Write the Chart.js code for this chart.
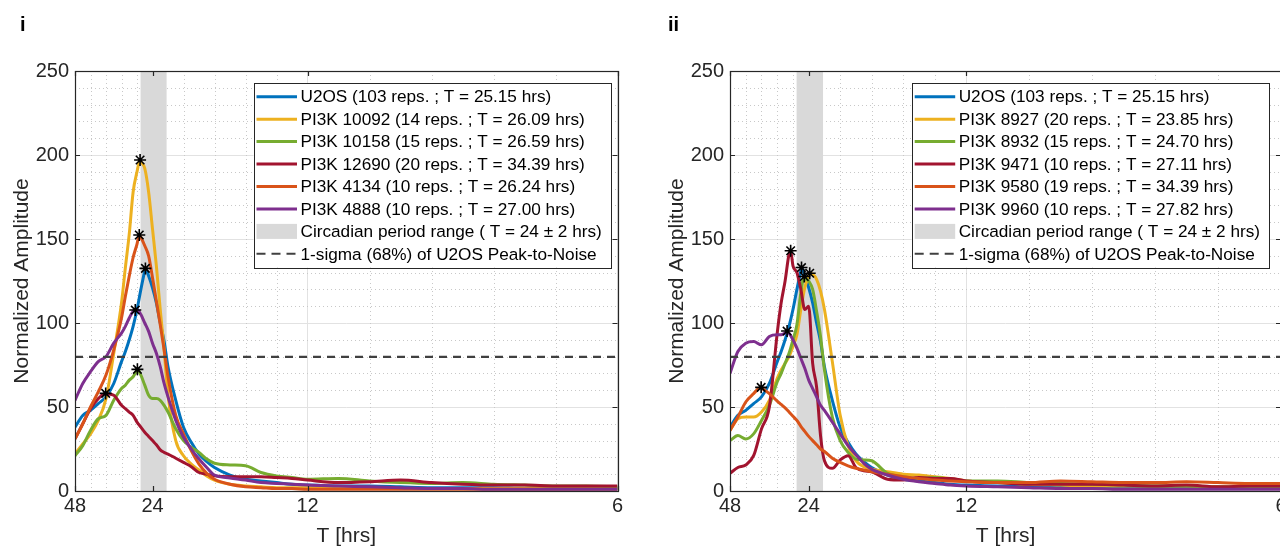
<!DOCTYPE html>
<html><head><meta charset="utf-8">
<script src="https://cdn.jsdelivr.net/npm/chart.js@4.4.1/dist/chart.umd.min.js"></script>
<style>
html,body{margin:0;padding:0;background:#fff;overflow:hidden}
#wrap{position:relative;width:1280px;height:550px;overflow:hidden;background:#fff}
#p1{position:absolute;left:0;top:0}
#p2{position:absolute;left:640px;top:0}
</style></head><body>
<div id="wrap"><canvas id="p1" width="640" height="550"></canvas><canvas id="p2" width="700" height="550"></canvas></div>
<script>
// ---------- DATA ----------
// x = frequency in cycles per day (24 / period in hours)
const freqGrid = [0.5,0.55,0.6,0.65,0.7,0.75,0.8,0.825,0.85,0.875,0.9,0.925,0.95,0.975,1.0,1.025,1.05,1.075,1.1,1.15,1.2,1.25,1.3,1.35,1.4,1.5,1.6,1.7,1.8,1.9,2.0,2.2,2.4,2.6,2.8,3.0,3.2,3.4,3.6,3.8,4.0];
const xTickPeriods = [48, 24, 12, 6];
const circadianRange = [22, 26];
const sigmaLevel = 79.8;
const yMin = 0, yMax = 250, yStep = 50;

// panel i
const u2os      = [38,45,48,52,56,64,77, 83,90,98,108,120,131,128,121, 112,100,89,74, 54,38,29,22,17.5,14, 9.5,7,6,5,4,3.5, 3,3,2.5,2,2,2,1.5,1.5,1.5,1.5];
const pi3k10092 = [22,28,34,42,55,82,112, 133,153,178,190,196,192,178,156, 134,108,84,57, 30,21,16,12.5,9,6.5, 4,3,2.5,2,2,2, 1.5,1.5,1.5,1.5,1.5,1.5,1.5,1.5,1.5,1.5];
const pi3k10158 = [21,27,36,43,45,54,61, 63,66,68,72,69,63,57,55, 55,54,51,47, 37,30,26,23,19,16.5, 15.5,15,11,9,8,7, 7.5,6,5,4.5,5,4,3.5,3,3,2.5];
const pi3k12690 = [31,40,49,55,58,57,51, 49,47,45,41,38,35,32.5,30, 27.5,24.5,23,22, 19.5,17,14.5,11,10,9, 8.5,8.5,8.5,8,7.5,6.5, 5,5.5,6.5,5,4,3.5,3.5,3,3,3];
const pi3k4134  = [31,40,50,59,69,84,103, 116,128,139,147,151,146,140,127, 113,99,84,68, 45,34,24,16,10.5,7, 4,2.5,2,1.5,1.5,1, 1,1,1,1,1,1,1,1,1,1];
const pi3k4888  = [54,64,71,77,80,88,94, 98,103,107,108,105,100,95,88, 82,74,64,56, 42,32,25,19,14,9.5, 7.8,6.5,5,4.5,4,3.5, 3,2.5,2,1.5,1.5,1,1,1,1,1];
const panel1PeakT   = [25.15, 26.09, 26.59, 34.39, 26.24, 27.00];
const panel1PeakAmp = [132.5, 197, 72.4, 58.1, 152.4, 107.7];
const panel1Labels = [
  'U2OS (103 reps. ; T = 25.15 hrs)',
  'PI3K 10092 (14 reps. ; T = 26.09 hrs)',
  'PI3K 10158 (15 reps. ; T = 26.59 hrs)',
  'PI3K 12690 (20 reps. ; T = 34.39 hrs)',
  'PI3K 4134 (10 reps. ; T = 26.24 hrs)',
  'PI3K 4888 (10 reps. ; T = 27.00 hrs)',
  'Circadian period range ( T = 24 \u00b1 2 hrs)',
  '1-sigma (68%) of U2OS Peak-to-Noise'
];

// panel ii
const pi3k8927 = [36,43,44,44,47,54,67, 72,76,80,86,93,108,121,128, 129,126,119,108, 77,45,27,18,14.5,13, 11.5,10,9.5,8.5,7.5,6, 5,4,3.5,3,3,3,3,2.5,2,2];
const pi3k8932 = [30,33,31,34,42,51,65, 70,76,82,90,99,118,127,125, 120,107,92,72, 44,30,23,19,18.5,18, 10.5,8.5,7.5,8,7,6, 6,5,4.5,4,3.5,3,3,2.5,2.5,2];
const pi3k9471 = [10.5,14,15.5,21,37,50,94, 112,125,141,134,130,120,108,110, 76,62,33,18, 13.5,18.5,21,14,12,11.5, 7,6.5,8,7.5,7.5,6, 5,4,4,4,3.5,3,3.5,2.5,3,3];
const pi3k9580 = [36,44,53,58,61.5,58,53.5, 51.5,49.5,47,44.5,42,38.5,35.5,32.5, 30,27.5,25,23.5, 19.5,17,15,13.5,12.5,11.5, 10,8.5,7.5,6.5,6,5.5, 5,5,6,5.5,5,5,5.5,5,4.5,4.5];
const pi3k9960 = [70,83,88,89,87,92,93, 93,94,94,90,85,79,73,66, 61,56,51,48, 41,34,27,21.5,16.5,13, 9.5,7,5.5,4.5,3.5,3, 2.5,2,1.5,1.5,1,1,1,1,1,1];
const panel2PeakT   = [25.15, 23.85, 24.70, 27.11, 34.39, 27.82];
const panel2PeakAmp = [133, 129.6, 127.7, 143, 61.7, 95.2];
const panel2Labels = [
  'U2OS (103 reps. ; T = 25.15 hrs)',
  'PI3K 8927 (20 reps. ; T = 23.85 hrs)',
  'PI3K 8932 (15 reps. ; T = 24.70 hrs)',
  'PI3K 9471 (10 reps. ; T = 27.11 hrs)',
  'PI3K 9580 (19 reps. ; T = 34.39 hrs)',
  'PI3K 9960 (10 reps. ; T = 27.82 hrs)',
  'Circadian period range ( T = 24 \u00b1 2 hrs)',
  '1-sigma (68%) of U2OS Peak-to-Noise'
];

// ---------- STYLE ----------
const seriesColors = ['#0072BD', '#EDB120', '#77AC30', '#A2142F', '#D95319', '#7E2F8E'];
const FONT = '"Liberation Sans", Arial, Helvetica, sans-serif';
const AXIS_COLOR = '#262626';
const BAND_COLOR = '#d9d9d9';
const SIGMA_COLOR = '#404040';
const MINOR_DIV = 5;

const matlabPlugin = {
  id: 'matlab',
  beforeDatasetsDraw(chart) {
    const {ctx, chartArea: a, scales: {x, y}} = chart;
    ctx.save();
    ctx.beginPath(); ctx.rect(a.left, a.top, a.right - a.left, a.bottom - a.top); ctx.clip();
    ctx.strokeStyle = '#c8c8c8'; ctx.lineWidth = 1; ctx.setLineDash([1, 3]);
    const majorX = xTickPeriods.map(T => 24 / T);
    for (let m = 0; m < majorX.length - 1; m++) {
      for (let j = 1; j < MINOR_DIV; j++) {
        const v = majorX[m] + j * (majorX[m + 1] - majorX[m]) / MINOR_DIV;
        const px = Math.round(x.getPixelForValue(v)) + 0.5;
        ctx.beginPath(); ctx.moveTo(px, a.top); ctx.lineTo(px, a.bottom); ctx.stroke();
      }
    }
    for (let v = yMin; v < yMax; v += yStep) {
      for (let j = 1; j < MINOR_DIV; j++) {
        const py = Math.round(y.getPixelForValue(v + j * yStep / MINOR_DIV)) + 0.5;
        ctx.beginPath(); ctx.moveTo(a.left, py); ctx.lineTo(a.right, py); ctx.stroke();
      }
    }
    ctx.setLineDash([]);
    const x0 = x.getPixelForValue(24 / circadianRange[1]);
    const x1 = x.getPixelForValue(24 / circadianRange[0]);
    ctx.fillStyle = BAND_COLOR;
    ctx.fillRect(x0, a.top, x1 - x0, a.bottom - a.top);
    ctx.restore();
  },
  afterDraw(chart, args, opts) {
    const {ctx, chartArea: a, scales: {x, y}} = chart;
    ctx.save();
    ctx.strokeStyle = AXIS_COLOR; ctx.lineWidth = 1.2;
    ctx.strokeRect(Math.round(a.left) + 0.5, Math.round(a.top) + 0.5, Math.round(a.right - a.left), Math.round(a.bottom - a.top));
    const tl = 5;
    ctx.beginPath();
    xTickPeriods.forEach(T => {
      const px = Math.round(x.getPixelForValue(24 / T)) + 0.5;
      ctx.moveTo(px, a.bottom); ctx.lineTo(px, a.bottom - tl);
      ctx.moveTo(px, a.top); ctx.lineTo(px, a.top + tl);
    });
    for (let v = yMin; v <= yMax; v += yStep) {
      const py = Math.round(y.getPixelForValue(v)) + 0.5;
      ctx.moveTo(a.left, py); ctx.lineTo(a.left + tl, py);
      ctx.moveTo(a.right, py); ctx.lineTo(a.right - tl, py);
    }
    ctx.stroke();

    const L = opts.legend;
    ctx.font = `17.2px ${FONT}`;
    const maxW = Math.max(...L.labels.map(t => ctx.measureText(t).width));
    const bx = a.left + L.offsetX, by = a.top + 12;
    const rowH = 22.45, padV = 13.7;
    const bw = 47 + maxW + 9, bh = padV * 2 + rowH * (L.labels.length - 1);
    ctx.fillStyle = '#fff'; ctx.fillRect(bx, by, bw, bh);
    ctx.strokeStyle = AXIS_COLOR; ctx.lineWidth = 1;
    ctx.strokeRect(Math.round(bx) + 0.5, Math.round(by) + 0.5, Math.round(bw), Math.round(bh));
    L.labels.forEach((t, i) => {
      const cy = by + padV + i * rowH;
      const sx0 = bx + 3, sx1 = bx + 43.5;
      if (i < seriesColors.length) {
        ctx.strokeStyle = seriesColors[i]; ctx.lineWidth = 3; ctx.setLineDash([]);
        ctx.beginPath(); ctx.moveTo(sx0, cy); ctx.lineTo(sx1, cy); ctx.stroke();
      } else if (i === seriesColors.length) {
        ctx.fillStyle = BAND_COLOR; ctx.fillRect(sx0, cy - 7.5, sx1 - sx0, 15);
      } else {
        ctx.strokeStyle = SIGMA_COLOR; ctx.lineWidth = 2; ctx.setLineDash([9, 6]);
        ctx.beginPath(); ctx.moveTo(sx0, cy); ctx.lineTo(sx1, cy); ctx.stroke();
        ctx.setLineDash([]);
      }
      ctx.fillStyle = '#000'; ctx.textBaseline = 'middle'; ctx.textAlign = 'left';
      ctx.fillText(t, bx + 47, cy + 1);
    });

    ctx.font = `bold 20px ${FONT}`;
    ctx.fillStyle = '#000'; ctx.textBaseline = 'middle'; ctx.textAlign = 'left';
    ctx.fillText(opts.panelLabel, opts.labelX, 25);
    ctx.restore();
  }
};

function makeChart(canvasId, series, peakT, peakAmp, labels, layoutCfg) {
  const datasets = series.map((vals, i) => {
    const pts = freqGrid.map((f, k) => ({x: f, y: vals[k]}));
    pts.push({x: 24 / peakT[i], y: peakAmp[i]});
    pts.sort((p, q) => p.x - q.x);
    return {
      label: labels[i], data: pts, borderColor: seriesColors[i], borderWidth: 3,
      pointRadius: 0, fill: false, cubicInterpolationMode: 'monotone', order: 20 - i
    };
  });
  const xMin = 24 / xTickPeriods[0], xMax = 24 / xTickPeriods[xTickPeriods.length - 1];
  datasets.push({
    label: labels[7], data: [{x: xMin, y: sigmaLevel}, {x: xMax, y: sigmaLevel}],
    borderColor: SIGMA_COLOR, borderWidth: 2.2, borderDash: [8, 6], pointRadius: 0, order: 2
  });
  datasets.push({
    label: 'peaks', data: peakT.map((T, i) => ({x: 24 / T, y: peakAmp[i]})),
    showLine: false, pointStyle: 'star', pointRadius: 6, pointBorderWidth: 1.6,
    borderColor: '#000', backgroundColor: '#000', pointBorderColor: '#000', order: 1
  });
  const tickFont = {family: FONT, size: 20};
  return new Chart(document.getElementById(canvasId), {
    type: 'line',
    data: {datasets},
    plugins: [matlabPlugin],
    options: {
      responsive: false, animation: false, events: [],
      layout: {padding: {top: 71, left: layoutCfg.padLeft, right: layoutCfg.padRight, bottom: 0}},
      plugins: {
        legend: {display: false}, tooltip: {enabled: false},
        matlab: {panelLabel: layoutCfg.panelLabel, labelX: layoutCfg.labelX,
                 legend: {labels, offsetX: layoutCfg.legendOffsetX}}
      },
      scales: {
        x: {
          type: 'linear', min: xMin, max: xMax,
          afterBuildTicks: s => { s.ticks = xTickPeriods.map(T => ({value: 24 / T})); },
          ticks: {callback: (v, i) => String(xTickPeriods[i]), font: tickFont, color: AXIS_COLOR,
                  padding: 3, maxRotation: 0, autoSkip: false},
          grid: {color: '#e2e2e2', drawTicks: false, lineWidth: 1},
          border: {display: false},
          title: {display: true, text: 'T [hrs]', font: {family: FONT, size: 21}, color: AXIS_COLOR,
                  padding: {top: 0, bottom: 1}},
          afterFit: s => { s.height = 59; s.paddingLeft = 0; s.paddingRight = 0; }
        },
        y: {
          min: yMin, max: yMax,
          ticks: {stepSize: yStep, font: tickFont, color: AXIS_COLOR, padding: 6},
          grid: {color: '#e2e2e2', drawTicks: false, lineWidth: 1},
          border: {display: false},
          title: {display: true, text: 'Normalized Amplitude', font: {family: FONT, size: 21},
                  color: AXIS_COLOR, padding: {top: 10, bottom: 0}},
          afterFit: s => { s.width = 75; s.paddingTop = 0; s.paddingBottom = 0; }
        }
      }
    }
  });
}

makeChart('p1', [u2os, pi3k10092, pi3k10158, pi3k12690, pi3k4134, pi3k4888],
  panel1PeakT, panel1PeakAmp, panel1Labels,
  {padLeft: 0, padRight: 22.5, panelLabel: 'i', labelX: 20, legendOffsetX: 178.5});
makeChart('p2', [u2os, pi3k8927, pi3k8932, pi3k9471, pi3k9580, pi3k9960],
  panel2PeakT, panel2PeakAmp, panel2Labels,
  {padLeft: 15, padRight: 59, panelLabel: 'ii', labelX: 28, legendOffsetX: 181.7});
</script></body></html>
